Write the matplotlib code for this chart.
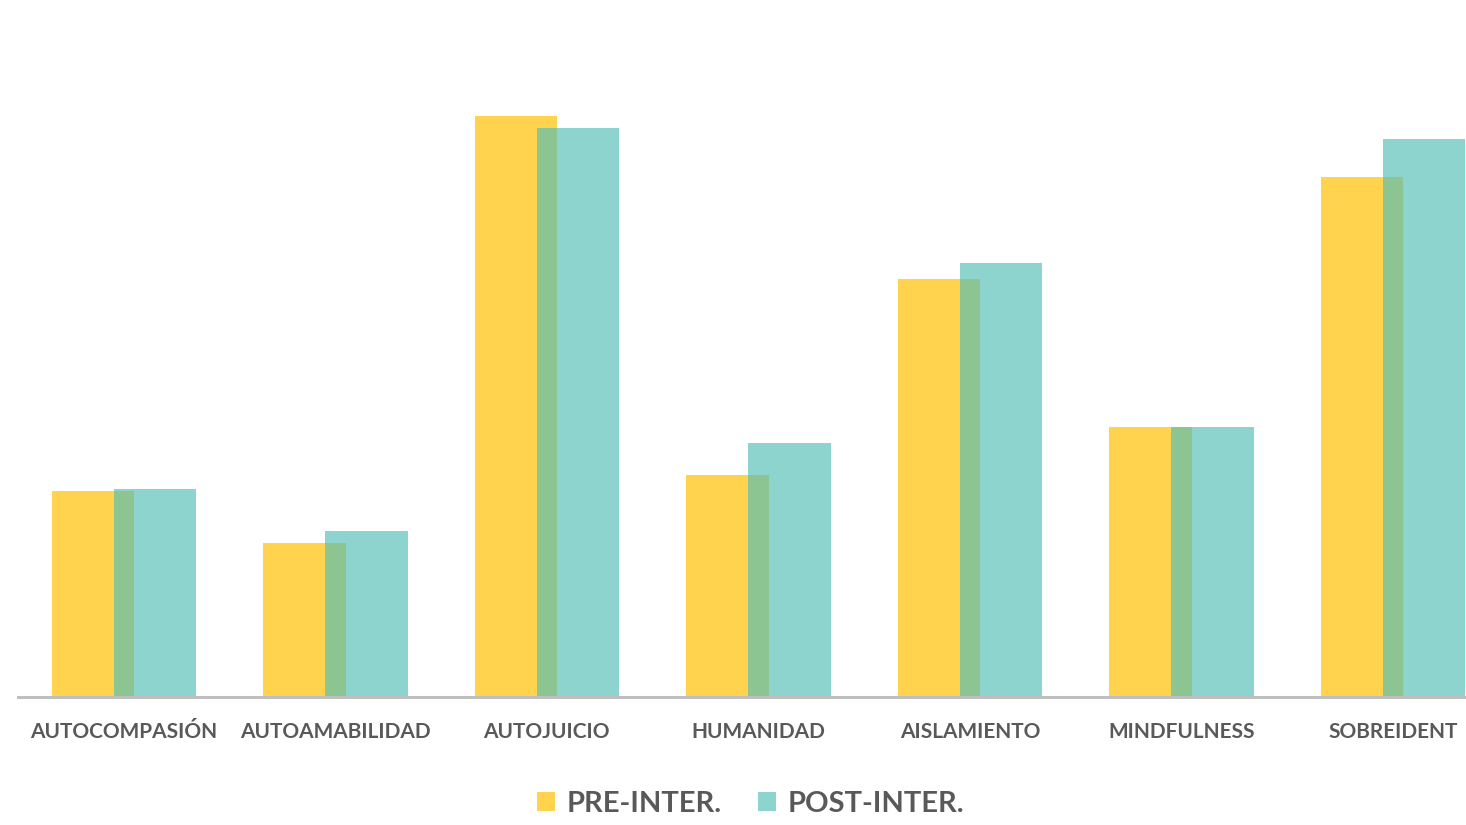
import numpy as np
import matplotlib
matplotlib.use("Agg")
import matplotlib.pyplot as plt
from matplotlib.patches import Patch

categories = ["AUTOCOMPASIÓN", "AUTOAMABILIDAD", "AUTOJUICIO", "HUMANIDAD",
              "AISLAMIENTO", "MINDFULNESS", "SOBREIDENT"]
pre_inter = [2.06, 1.54, 5.81, 2.22, 4.18, 2.70, 5.20]
post_inter = [2.08, 1.66, 5.69, 2.54, 4.34, 2.70, 5.58]
series_names = ["PRE-INTER.", "POST-INTER."]

yellow = "#FFD34E"
teal = "#52BEB6"
label_grey = "#595959"

plt.rcParams['font.family'] = ['Lato', 'DejaVu Sans']

fig = plt.figure(figsize=(14.66, 8.25), dpi=100)
ax = fig.add_axes([18 / 1466, 128 / 825, 1448 / 1466, 677 / 825])

x = np.arange(len(categories))
w = 0.39
off = 0.293
ax.bar(x - off / 2, pre_inter, width=w, color=yellow, zorder=2)
# post bars are see-through, so the overlap shows up greenish
ax.bar(x + off / 2, post_inter, width=w, color=teal, alpha=0.66, zorder=3)

ax.set_xlim(-0.5, 6.345)
ax.set_ylim(0, 6.77)
ax.set_yticks([])
ax.set_xticks(x)
ax.set_xticklabels(categories, fontsize=15, fontweight="bold", color=label_grey)
ax.tick_params(axis="x", length=0, pad=18)
for s in ["top", "right", "left"]:
    ax.spines[s].set_visible(False)
ax.spines["bottom"].set_color("#BFBFBF")
ax.spines["bottom"].set_linewidth(2.2)
ax.spines["bottom"].set_zorder(4)

handles = [Patch(facecolor=yellow), Patch(facecolor=teal, alpha=0.66)]
leg = fig.legend(handles, series_names, loc="center", bbox_to_anchor=(0.512, 1 - 804 / 825),
                 ncol=2, frameon=False, handlelength=0.62, handleheight=0.62,
                 handletextpad=0.4, columnspacing=1.25,
                 prop={"family": ["Lato", "DejaVu Sans"], "size": 21, "weight": "bold"})
for t in leg.get_texts():
    t.set_color(label_grey)

fig.savefig("out.png", dpi=100, facecolor="white")
